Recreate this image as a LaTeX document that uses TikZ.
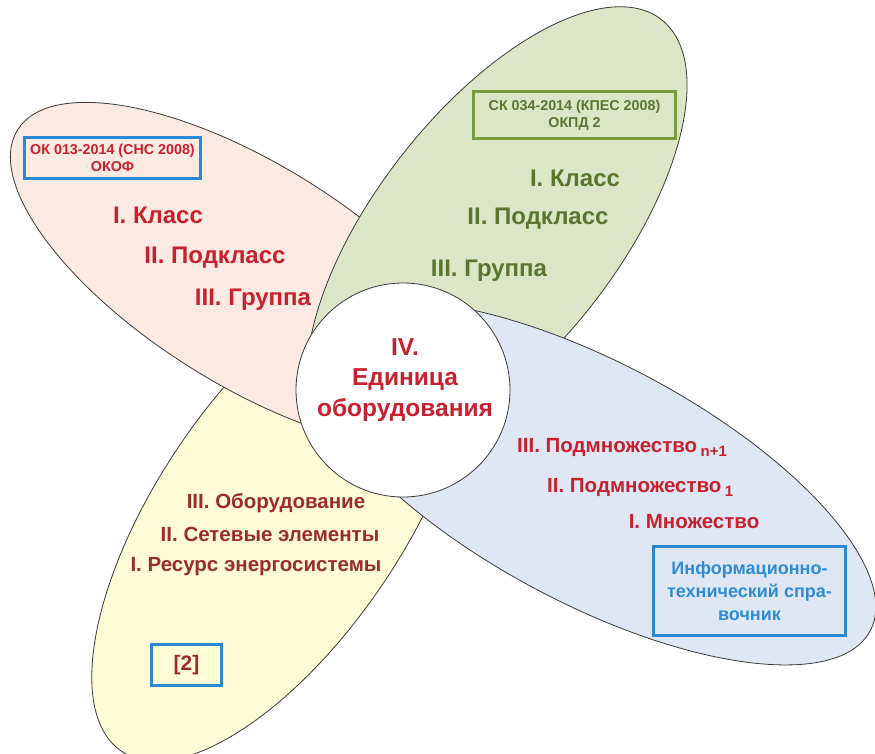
\documentclass[tikz,border=0pt]{standalone}
\usepackage{fontspec}
\setmainfont{Liberation Sans}
\definecolor{pinkfill}{HTML}{FBEAE1}
\definecolor{greenfill}{HTML}{DCE6C6}
\definecolor{bluefill}{HTML}{DFE7F4}
\definecolor{yellowfill}{HTML}{FFFBD6}
\definecolor{redtxt}{HTML}{C8202E}
\definecolor{greentxt}{HTML}{5B7430}
\definecolor{yelltxt}{HTML}{9B2C2C}
\definecolor{bluetxt}{HTML}{2E8BD6}
\definecolor{boxblue}{HTML}{2A89D3}
\definecolor{boxgreen}{HTML}{7B9A3F}
\definecolor{edge}{HTML}{3A3A3A}
\begin{document}
\begin{tikzpicture}[x=1pt,y=-1pt,
  petal/.style={draw=edge,line width=0.8pt},
  bigtxt/.style={font=\bfseries\fontsize{24}{28}\selectfont,inner sep=0pt},
  midtxt/.style={font=\bfseries\fontsize{20.5}{24}\selectfont,inner sep=0pt},
  boxtxt/.style={font=\bfseries\fontsize{14.3}{17.5}\selectfont,align=center,inner sep=0pt},
  refbox/.style={draw=boxblue,line width=3pt,inner sep=0pt},
  okpdbox/.style={draw=boxgreen,line width=3pt,inner sep=0pt}]
\useasboundingbox (0,0) rectangle (875,754);
\fill[white] (0,0) rectangle (875,754);
% petals
\draw[petal,fill=yellowfill,rotate around={56:(281,515)}] (281,515) ellipse [x radius=285, y radius=123];
\draw[petal,fill=pinkfill,rotate around={-32:(250,275)}] (250,275) ellipse [x radius=274, y radius=110];
\draw[petal,fill=greenfill,rotate around={52:(497,230)}] (497,230) ellipse [x radius=267, y radius=121];
\draw[petal,fill=bluefill,rotate around={-28:(592,483)}] (592,483) ellipse [x radius=315, y radius=120];
\node[circle,draw=edge,line width=0.8pt,fill=white,minimum size=214pt,inner sep=0pt] (hub) at (403,390) {};
\node[font=\bfseries\fontsize{24.5}{30.5}\selectfont,text=redtxt,align=center,inner sep=0pt] (unit) at (405,380) {IV.\\Единица\\оборудования};
% pink petal
\node[refbox,minimum width=176pt,minimum height=41pt] (okofbox) at (112.5,158) {};
\node[boxtxt,text=redtxt] (okof) at (okofbox.center) {ОК 013-2014 (СНС 2008)\\ОКОФ};
\node[bigtxt,text=redtxt] (p1) at (158,215) {I. Класс};
\node[bigtxt,text=redtxt] (p2) at (215,258) {II. Подкласс};
\node[bigtxt,text=redtxt] (p3) at (253,300) {III. Группа};
% green petal
\node[okpdbox,minimum width=202pt,minimum height=47pt] (okpdbox) at (574.5,115) {};
\node[boxtxt,text=greentxt] (okpd) at (okpdbox.center) {СК 034-2014 (КПЕС 2008)\\ОКПД 2};
\node[bigtxt,text=greentxt] (g1) at (575,178) {I. Класс};
\node[bigtxt,text=greentxt] (g2) at (538,219) {II. Подкласс};
\node[bigtxt,text=greentxt] (g3) at (489,271) {III. Группа};
% blue petal
\node[midtxt,text=redtxt,anchor=west] (b3) at (517,447) {III. Подмножество\,{\fontsize{15}{15}\selectfont\raisebox{-4pt}{n+1}}};
\node[midtxt,text=redtxt,anchor=west] (b2) at (547,487) {II. Подмножество\,{\fontsize{15}{15}\selectfont\raisebox{-4pt}{1}}};
\node[midtxt,text=redtxt] (b1) at (694,522) {I. Множество};
\node[refbox,minimum width=192pt,minimum height=89pt] (itsbox) at (749.5,591) {};
\node[font=\bfseries\fontsize{18}{23}\selectfont,text=bluetxt,align=center,inner sep=0pt] (its) at (itsbox.center) {Информационно-\\технический спра-\\вочник};
% yellow petal
\node[midtxt,text=yelltxt] (y3) at (276,503) {III. Оборудование};
\node[midtxt,text=yelltxt] (y2) at (270,534) {II. Сетевые элементы};
\node[midtxt,text=yelltxt] (y1) at (256,567) {I. Ресурс энергосистемы};
\node[refbox,minimum width=70pt,minimum height=41pt] (refbox2) at (186.5,665) {};
\node[font=\bfseries\fontsize{21}{24}\selectfont,text=yelltxt,inner sep=0pt] (ref) at (refbox2.center) {[2]};
\end{tikzpicture}
\end{document}
